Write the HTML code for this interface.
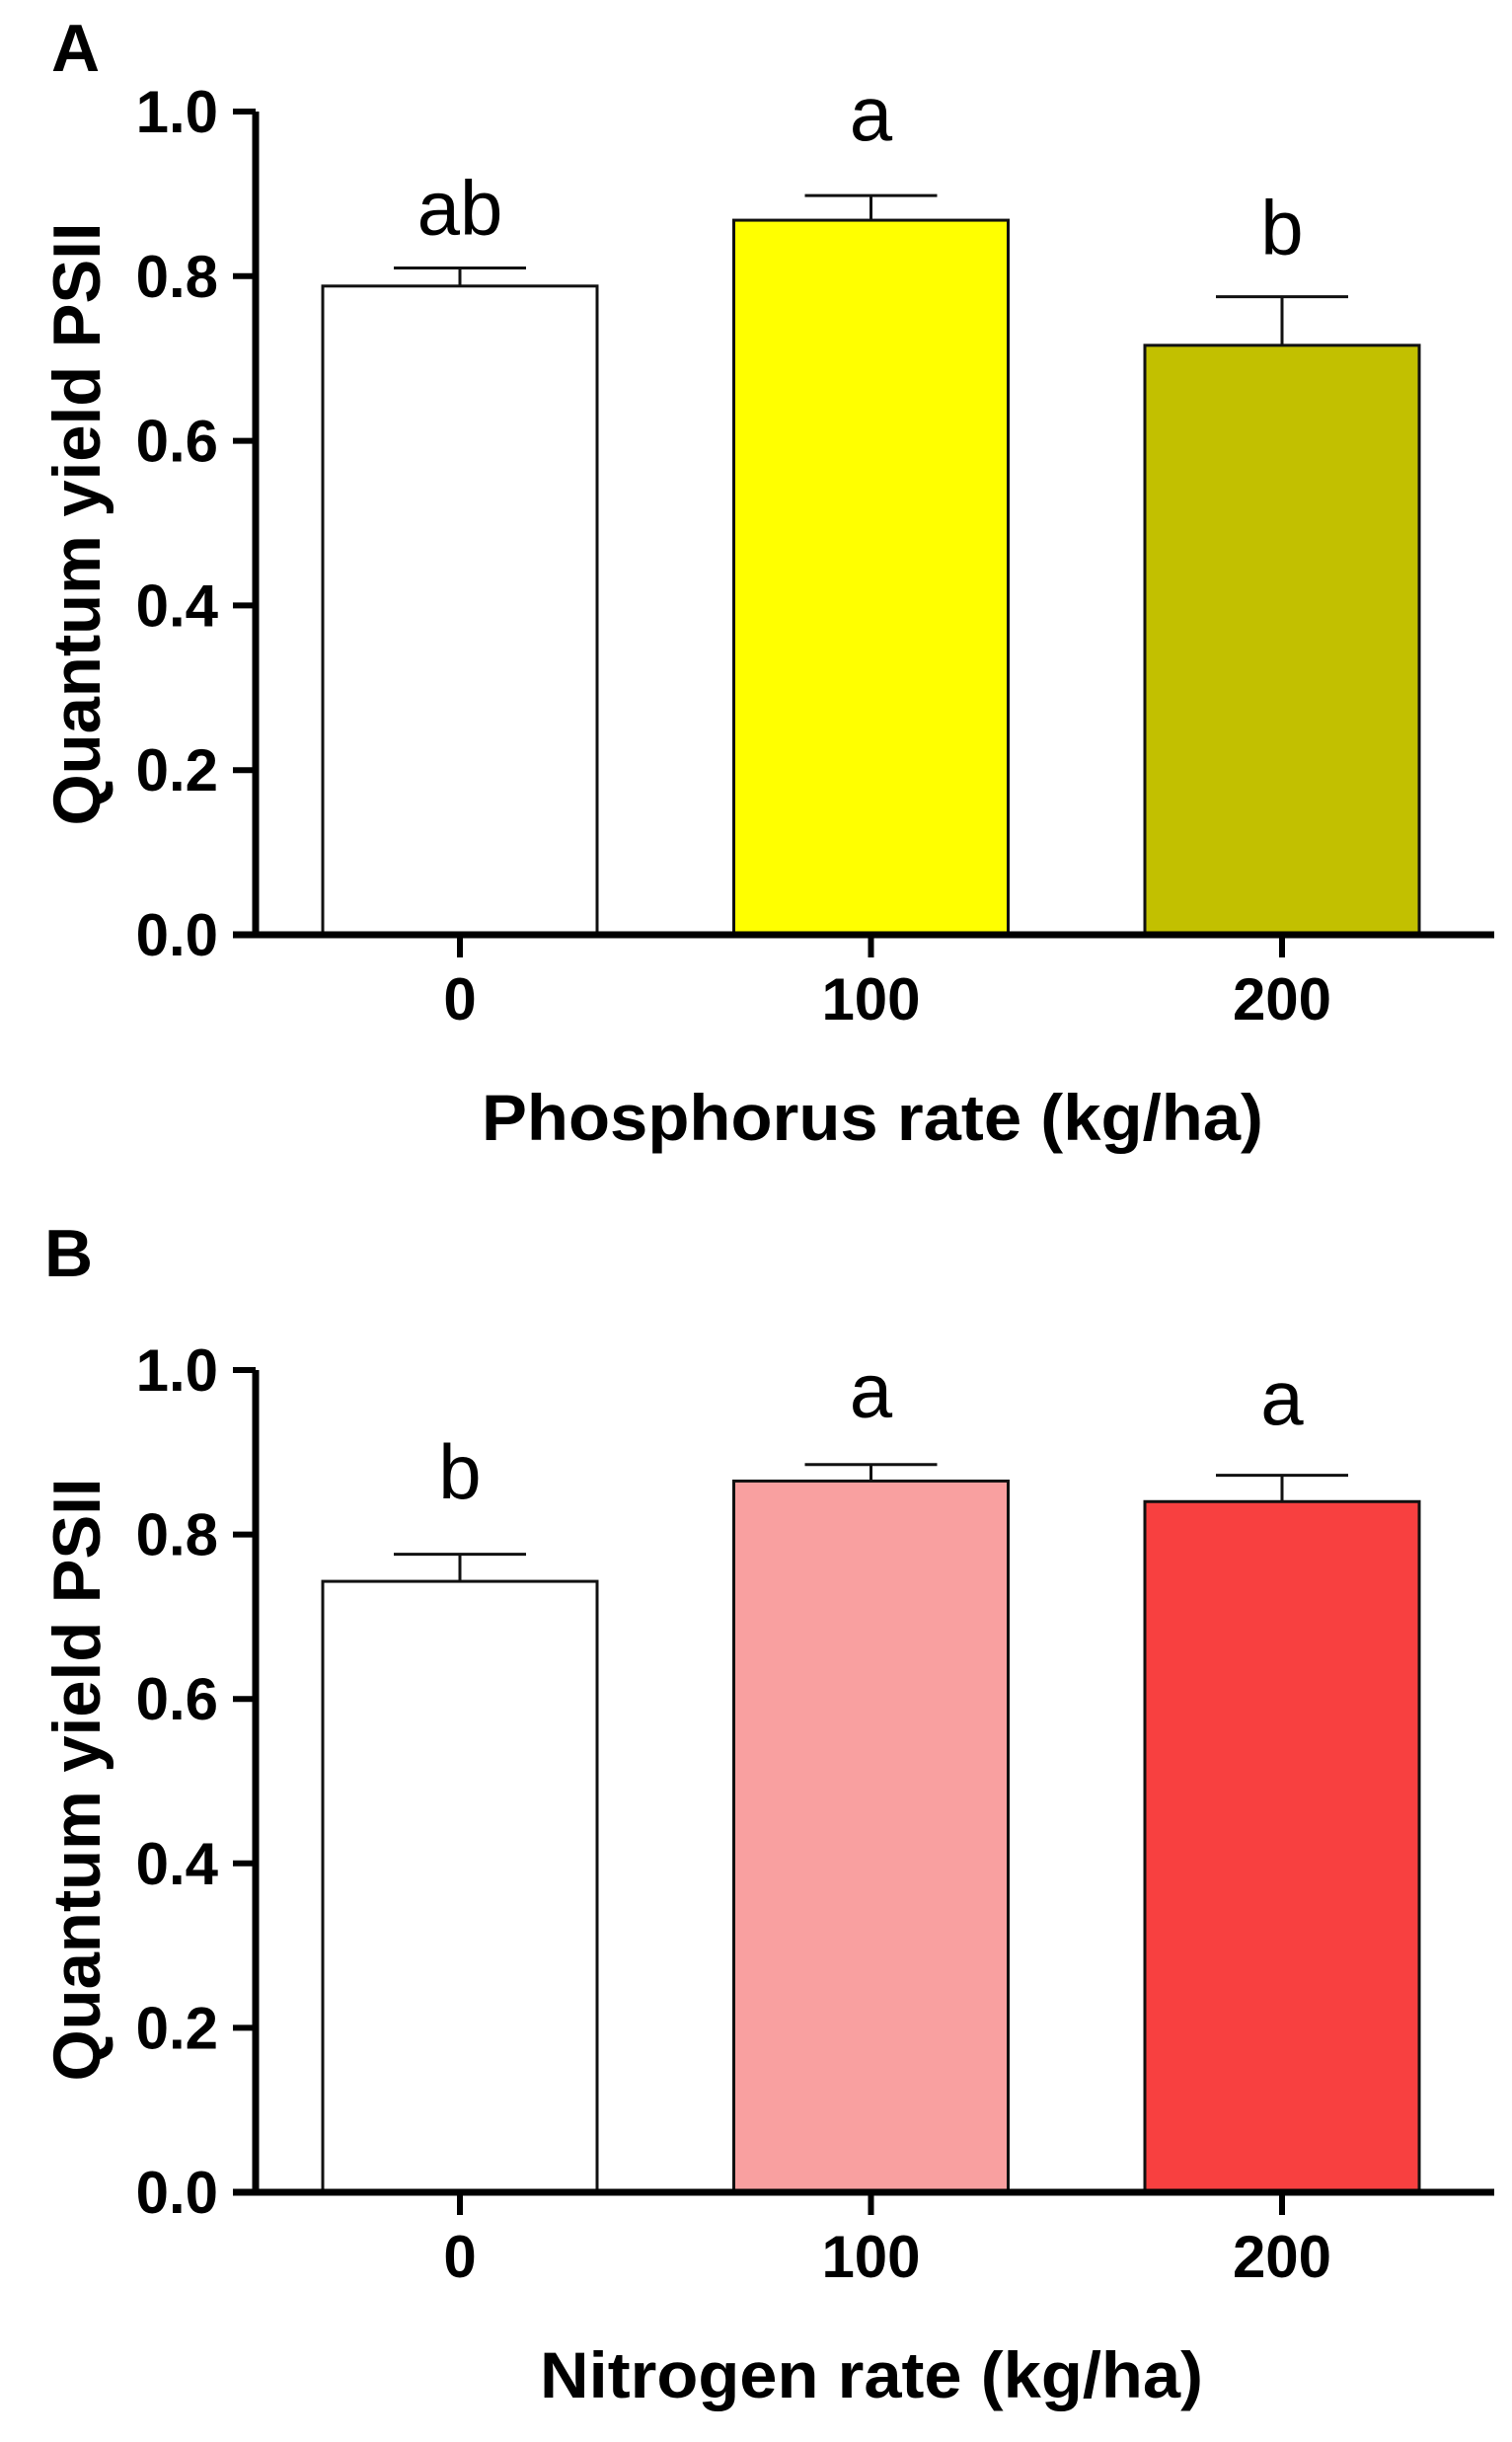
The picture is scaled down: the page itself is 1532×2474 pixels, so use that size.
<!DOCTYPE html>
<html><head><meta charset="utf-8"><style>
html,body{margin:0;padding:0;background:#fff;}
svg{display:block;}
text{font-family:"Liberation Sans",Arial,sans-serif;fill:#000;}
</style></head><body>
<svg id="fig" width="1532" height="2474" viewBox="0 0 1532 2474" xmlns="http://www.w3.org/2000/svg"></svg>
<script>
const categories = ["0","100","200"];
const yTicks = [0.0,0.2,0.4,0.6,0.8,1.0];
const yTickLabels = ["0.0","0.2","0.4","0.6","0.8","1.0"];
const meansA = [0.788,0.868,0.716];
const errA = [0.810,0.898,0.775];
const lettersA = ["ab","a","b"];
const letterPosA = [0.851,0.965,0.827];
const meansB = [0.743,0.865,0.840];
const errB = [0.776,0.885,0.872];
const lettersB = ["b","a","a"];
const letterPosB = [0.844,0.943,0.934];

const NS="http://www.w3.org/2000/svg";
const svg=document.getElementById('fig');
function mk(tag,attrs,parent){const e=document.createElementNS(NS,tag);for(const k in attrs)e.setAttribute(k,attrs[k]);(parent||svg).appendChild(e);return e;}

function panel(cfg){
  const g=mk('g',{});
  
  
  const x0=259, xEnd=1514, y0=cfg.y0, y1=cfg.y1;
  const yS=v=>y0-(y0-y1)*v;
  const xC=i=>466+i*416.5;
  const bw=278;
  const lab=mk('text',{x:cfg.labX,y:cfg.labY,'font-size':68,'font-weight':'bold'},g);
  lab.textContent=cfg.label;
  
  
  // bars
  cfg.means.forEach((m,i)=>{
    const r=mk('rect',{x:xC(i)-bw/2,y:yS(m),width:bw,height:yS(0)-yS(m),fill:cfg.colors[i],stroke:'#111','stroke-width':3},g);
    
    
    const e=mk('path',{d:`M${xC(i)} ${yS(m)} V${yS(cfg.err[i])} M${xC(i)-67} ${yS(cfg.err[i])} H${xC(i)+67}`,stroke:'#111','stroke-width':3,fill:'none'},g);
    
    
    const t=mk('text',{x:xC(i),y:yS(cfg.letterPos[i]),'font-size':78,'text-anchor':'middle'},g);
    t.textContent=cfg.letters[i];
    
    
  });
  // axes
  const ax=mk('path',{d:`M${x0} ${y1} V${y0} M236 ${y0} H${xEnd}`,stroke:'#000','stroke-width':7,fill:'none'},g);
  
  
  yTicks.forEach((v,i)=>{
    const tk=mk('line',{x1:236,x2:x0,y1:yS(v),y2:yS(v),stroke:'#000','stroke-width':6},g);
    
    
    const tl=mk('text',{x:221,y:yS(v)+21,'font-size':60,'font-weight':'bold','text-anchor':'end'},g);
    tl.textContent=yTickLabels[i];
    
    
  });
  categories.forEach((c,i)=>{
    const tk=mk('line',{x1:xC(i),x2:xC(i),y1:y0,y2:y0+23,stroke:'#000','stroke-width':6},g);
    
    
    const tl=mk('text',{x:xC(i),y:y0+86,'font-size':60,'font-weight':'bold','text-anchor':'middle'},g);
    tl.textContent=c;
    
    
  });
  const xt=mk('text',{x:cfg.xtX,y:y0+208,'font-size':66,'font-weight':'bold',textLength:cfg.xtLen,lengthAdjust:'spacingAndGlyphs'},g);
  xt.textContent=cfg.xTitle;
  
  
  const yt=mk('text',{x:0,y:0,'font-size':68,'font-weight':'bold','text-anchor':'middle',textLength:611,lengthAdjust:'spacingAndGlyphs',transform:`translate(101 ${cfg.ytY}) rotate(-90)`},g);
  yt.textContent='Quantum yield PSII';
  
  
}
panel({name:'panel-a',label:'A',labX:52,labY:72,y0:947,y1:113,means:meansA,err:errA,letters:lettersA,letterPos:letterPosA,colors:['#ffffff','#ffff00','#c2c000'],xTitle:'Phosphorus rate (kg/ha)',xtX:488,xtLen:792,ytY:531});
panel({name:'panel-b',label:'B',labX:45,labY:1293,y0:2221,y1:1388,means:meansB,err:errB,letters:lettersB,letterPos:letterPosB,colors:['#ffffff','#f9a0a0','#f84040'],xTitle:'Nitrogen rate (kg/ha)',xtX:547,xtLen:672,ytY:1803});
</script>
</body></html>
